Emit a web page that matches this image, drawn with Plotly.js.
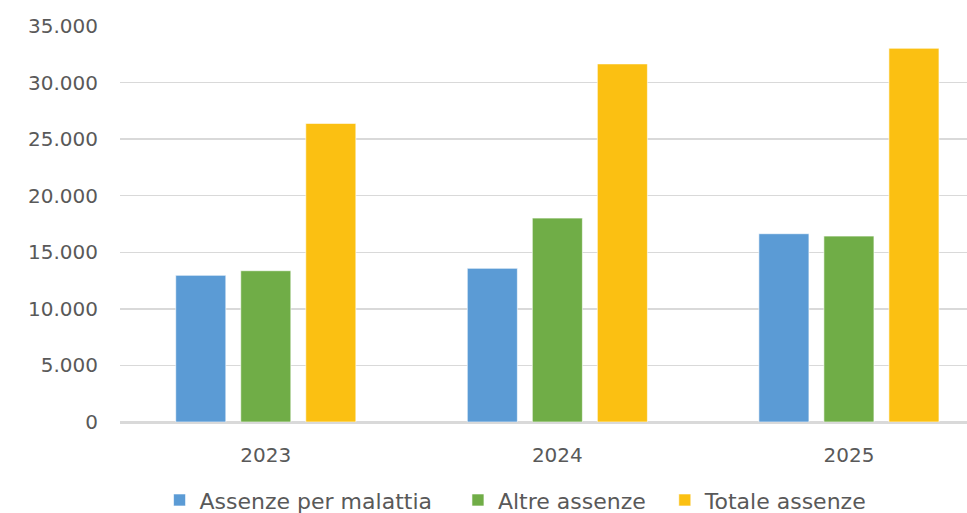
<!DOCTYPE html>
<html>
<head>
<meta charset="utf-8">
<script src="https://cdn.plot.ly/plotly-3.0.1.min.js"></script>
<style>html,body{margin:0;padding:0;background:#fff;}#chart{width:967px;height:513px;}</style>
</head>
<body>
<div id="chart"></div>
<script>
const years = ['2023', '2024', '2025'];
const seriesNames = ['Assenze per malattia', 'Altre assenze', 'Totale assenze'];
const malattia = [12960, 13580, 16640];
const altre = [13370, 18020, 16430];
const totale = [26390, 31650, 33030];
const yTicks = [0, 5000, 10000, 15000, 20000, 25000, 30000, 35000];

const colors = ['#5B9BD5', '#70AD47', '#FBC012'];
const values = [malattia, altre, totale];
const pad = ['\u00a0\u00a0\u00a0', '\u00a0\u00a0', ''];

const traces = values.map((v, i) => ({
  type: 'bar',
  name: seriesNames[i] + pad[i],
  x: years,
  y: v,
  marker: {color: colors[i], line: {color: 'rgba(255,255,255,0.6)', width: 1}},
  hoverinfo: 'x+y+name'
}));

const fontFam = 'DejaVu Sans, sans-serif';
const layout = {
  width: 967, height: 513,
  margin: {l: 120, r: 0, t: 26, b: 91, autoexpand: false},
  paper_bgcolor: '#ffffff', plot_bgcolor: '#ffffff',
  separators: ',.',
  barmode: 'group',
  bargap: 0.331,
  bargroupgap: 0.23,
  font: {family: fontFam, size: 20, color: '#595959'},
  xaxis: {
    type: 'category',
    range: [-0.5, 2.405],
    showgrid: false,
    showline: true,
    linecolor: '#d9d9d9',
    linewidth: 1.5,
    ticks: '',
    ticklabelstandoff: 14,
    tickfont: {family: fontFam, size: 20, color: '#595959'},
    automargin: false,
    fixedrange: true
  },
  yaxis: {
    range: [0, 35000],
    tickvals: yTicks,
    tickformat: ',d',
    showgrid: true,
    gridcolor: '#d9d9d9',
    gridwidth: 1.5,
    zeroline: true,
    zerolinecolor: '#d9d9d9',
    zerolinewidth: 1.5,
    showline: false,
    ticks: '',
    ticklabelstandoff: 21,
    tickfont: {family: fontFam, size: 20, color: '#595959'},
    automargin: false,
    fixedrange: true
  },
  showlegend: true,
  legend: {
    orientation: 'h',
    xref: 'container', yref: 'container',
    x: 0.165, xanchor: 'left',
    y: 0.025, yanchor: 'middle',
    font: {family: fontFam, size: 22, color: '#595959'},
    bgcolor: 'rgba(0,0,0,0)'
  }
};

Plotly.newPlot('chart', traces, layout, {displayModeBar: false, staticPlot: true});
</script>
</body>
</html>
